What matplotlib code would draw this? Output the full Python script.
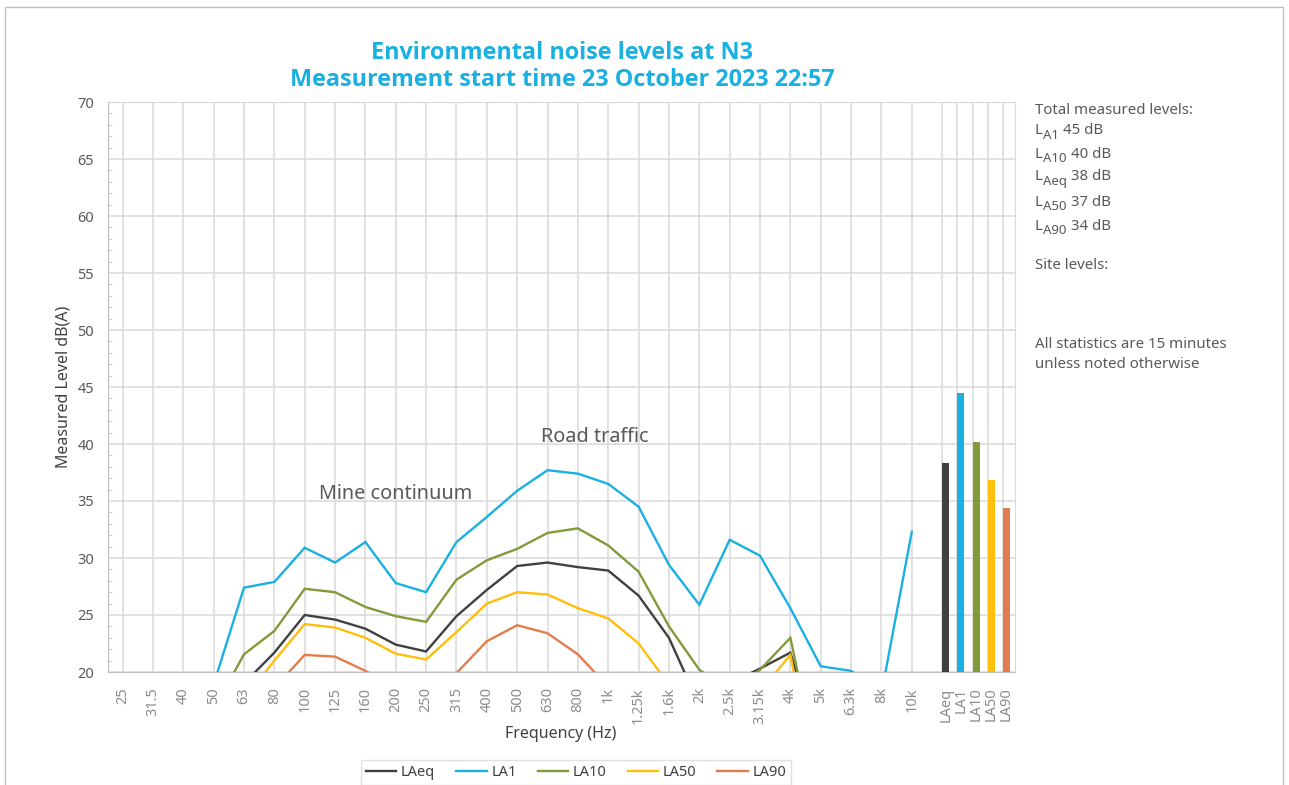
import numpy as np
import matplotlib
matplotlib.use("Agg")
import matplotlib.pyplot as plt
from matplotlib.patches import Rectangle

plt.rcParams['font.family'] = ['Noto Sans', 'DejaVu Sans']

nan = np.nan
freqs = ['25', '31.5', '40', '50', '63', '80', '100', '125', '160', '200', '250',
         '315', '400', '500', '630', '800', '1k', '1.25k', '1.6k', '2k', '2.5k',
         '3.15k', '4k', '5k', '6.3k', '8k', '10k']

laeq = [nan, nan, nan, nan, 19.0, 21.7, 25.0, 24.6, 23.8, 22.4, 21.8, 24.9, 27.2,
        29.3, 29.6, 29.2, 28.9, 26.7, 23.0, 17.1, 19.0, 20.3, 21.7, 12.6, nan, nan, nan]
la1 = [nan, nan, nan, 18.9, 27.4, 27.9, 30.9, 29.6, 31.4, 27.8, 27.0, 31.4, 33.6,
       35.9, 37.7, 37.4, 36.5, 34.5, 29.4, 25.9, 31.6, 30.2, 25.6, 20.5, 20.1, 18.1, 32.3]
la10 = [nan, nan, nan, 16.7, 21.55, 23.6, 27.3, 27.0, 25.7, 24.9, 24.4, 28.1, 29.8,
        30.8, 32.2, 32.6, 31.1, 28.8, 24.0, 20.2, 18.3, 20.2, 23.0, 10.4, nan, nan, nan]
la50 = [nan, nan, nan, nan, 17.6, 21.0, 24.2, 23.9, 23.0, 21.6, 21.1, 23.5, 26.0,
        27.0, 26.8, 25.6, 24.7, 22.5, 18.9, nan, nan, 18.3, 21.5, 7.9, nan, nan, nan]
la90 = [nan, nan, nan, nan, nan, 18.6, 21.5, 21.35, 20.1, 18.5, 18.0, 19.9, 22.7,
        24.1, 23.4, 21.55, 18.7, nan, nan, nan, nan, nan, nan, nan, nan, nan, nan]

series_names = ['LAeq', 'LA1', 'LA10', 'LA50', 'LA90']
series_colors = ['#404040', '#1AB0E2', '#829A3A', '#FFBE0B', '#E27C4D']
total_levels = [38.3, 44.5, 40.2, 36.8, 34.4]
summary_subs = ['A1', 'A10', 'Aeq', 'A50', 'A90']
summary_vals = ['45 dB', '40 dB', '38 dB', '37 dB', '34 dB']

W, H = 1289, 785
fig = plt.figure(figsize=(W / 100, H / 100), dpi=100)
ax = fig.add_axes([108 / W, (H - 672) / H, (1015 - 108) / W, (672 - 102) / H])

grid_col = '#D9D9D9'
x = np.arange(len(freqs))
bar_x = len(freqs) + 0.12 + 0.5 * np.arange(len(total_levels))
grid_x = np.concatenate([x, len(freqs) + 0.5 * np.arange(len(total_levels))])
for gx in grid_x:
    ax.axvline(gx, color=grid_col, lw=1.1, zorder=0)

handles = []
for vals, name, col in zip([laeq, la1, la10, la50, la90], series_names, series_colors):
    h, = ax.plot(x, vals, color=col, lw=1.7, label=name, zorder=3,
                 solid_joinstyle='miter')
    handles.append(h)

ax.bar(bar_x, total_levels, width=0.23, color=series_colors, zorder=3)

ax.set_xlim(-0.48, 29.4)
ax.set_ylim(20, 70)
ax.set_yticks(np.arange(20, 71, 5))
ax.set_yticks(np.arange(20, 71, 1), minor=True)
ax.yaxis.grid(True, which='major', color=grid_col, lw=1.1)
ax.set_axisbelow(True)
ax.tick_params(axis='y', which='major', length=0, pad=10, labelsize=10.5,
               labelcolor='#595959')
ax.tick_params(axis='y', which='minor', direction='in', length=3, color='#BFBFBF')

ax.set_xticks(np.concatenate([x, bar_x]))
ax.set_xticklabels(freqs + series_names, rotation=90, ha='center', va='top')
ax.tick_params(axis='x', length=0, pad=11, labelsize=10.5, labelcolor='#8C8C8C')

for side in ['left', 'bottom']:
    ax.spines[side].set_color('#BFBFBF')
for side in ['top', 'right']:
    ax.spines[side].set_color(grid_col)

title_col = '#1AB0E2'
title_font = ['Open Sans', 'DejaVu Sans']
fig.text(562 / W, 1 - 53 / H, 'Environmental noise levels at N3', ha='center',
         va='center', fontsize=16.8, fontweight='bold', color=title_col,
         family=title_font)
fig.text(562 / W, 1 - 80 / H, 'Measurement start time 23 October 2023 22:57',
         ha='center', va='center', fontsize=16.8, fontweight='bold', color=title_col,
         family=title_font)

fig.text(64 / W, 1 - 387 / H, 'Measured Level dB(A)', rotation=90, ha='center',
         va='center', fontsize=11.5, color='#404040')
fig.text(561 / W, 1 - 734 / H, 'Frequency (Hz)', ha='center', va='center',
         fontsize=11.5, color='#404040')

fig.text(396 / W, 1 - 494 / H, 'Mine continuum', ha='center', va='center',
         fontsize=14.3, color='#595959')
fig.text(595 / W, 1 - 437 / H, 'Road traffic', ha='center', va='center',
         fontsize=14.3, color='#595959')

side_col = '#595959'
fs_side = 10.8
fig.text(1035 / W, 1 - 110 / H, 'Total measured levels:', ha='left', va='center',
         fontsize=fs_side, color=side_col)
for sub, val, yy in zip(summary_subs, summary_vals, [131, 154, 177, 202, 226]):
    t1 = fig.text(1035 / W, 1 - yy / H, 'L', ha='left', va='center',
                  fontsize=fs_side, color=side_col)
    a2 = ax.annotate(sub, xy=(1, 0), xycoords=t1, xytext=(0.2, -2.6),
                     textcoords='offset points', ha='left', va='bottom',
                     fontsize=fs_side * 0.88, color=side_col, annotation_clip=False)
    ax.annotate(val, xy=(1, 0), xycoords=(a2, t1), xytext=(3.0, 0),
                textcoords='offset points', ha='left', va='bottom',
                fontsize=fs_side, color=side_col, annotation_clip=False)

for txt, yy in [('Site levels:', 266), ('All statistics are 15 minutes', 345),
                ('unless noted otherwise', 365)]:
    fig.text(1035 / W, 1 - yy / H, txt, ha='left', va='center', fontsize=fs_side,
             color=side_col)

leg = fig.legend(handles, series_names, loc='upper center',
                 bbox_to_anchor=(576 / W, 1 - 760 / H), ncol=5, frameon=True,
                 fancybox=False, fontsize=10.5, handlelength=2.1,
                 columnspacing=1.45, handletextpad=0.3, borderpad=0.35,
                 borderaxespad=0)
leg.get_frame().set_edgecolor(grid_col)
leg.get_frame().set_linewidth(1.0)
for t in leg.get_texts():
    t.set_color('#404040')

fig.add_artist(Rectangle((5 / W, -0.02), (1283 - 5) / W, 1 - 7 / H + 0.02,
                         transform=fig.transFigure, fill=False,
                         edgecolor='#BFBFBF', lw=1.0))

fig.savefig('out.png', dpi=100)
